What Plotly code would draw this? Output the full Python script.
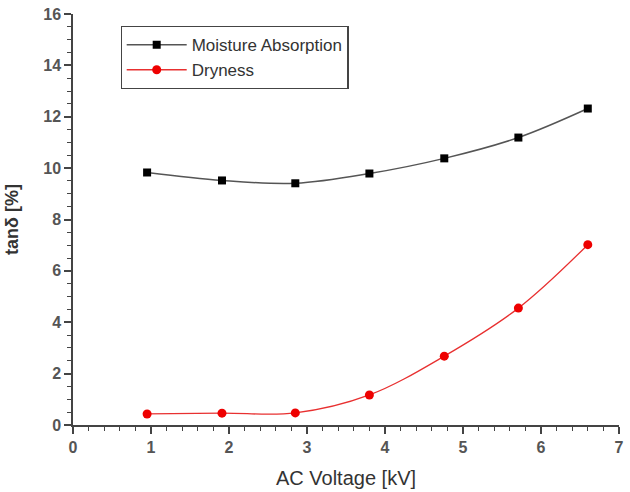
import plotly.graph_objects as go

voltage = [0.95, 1.91, 2.85, 3.80, 4.76, 5.71, 6.60]
moisture = [9.83, 9.52, 9.41, 9.79, 10.38, 11.19, 12.32]
dryness = [0.43, 0.46, 0.47, 1.17, 2.68, 4.55, 7.02]

fig = go.Figure()
fig.add_trace(go.Scatter(x=voltage, y=moisture, name="Moisture Absorption",
                         mode="lines+markers", line=dict(color="#555555", width=1.5, shape="spline"),
                         marker=dict(symbol="square", size=8, color="black")))
fig.add_trace(go.Scatter(x=voltage, y=dryness, name="Dryness",
                         mode="lines+markers", line=dict(color="#e83030", width=1.3, shape="spline"),
                         marker=dict(symbol="circle", size=9, color="#ee0000")))

axis_common = dict(showline=True, linecolor="#444444", linewidth=1.5, ticks="outside",
                   ticklen=7, tickwidth=1.5, tickcolor="#444444", showgrid=False, zeroline=False,
                   tickfont=dict(family="Liberation Sans", size=16, color="#555555", weight="bold"),
                   minor=dict(ticks="outside", ticklen=4, tickwidth=1.2, tickcolor="#444444"))

fig.update_xaxes(range=[0, 7], dtick=1, **axis_common,
                 title=dict(text="AC Voltage [kV]", font=dict(family="Liberation Sans", size=20, color="#333333"), standoff=16))
fig.update_yaxes(range=[0, 16], dtick=2, **axis_common,
                 title=dict(text="tanδ [%]", font=dict(family="Liberation Sans", size=18, color="#333333", weight="bold"), standoff=20))

fig.update_layout(width=630, height=492, margin=dict(l=73, r=6, t=13, b=67),
                  plot_bgcolor="white", paper_bgcolor="white",
                  legend=dict(x=0.087, y=0.971, xanchor="left", yanchor="top",
                              bordercolor="#444444", borderwidth=1.2, bgcolor="white",
                              font=dict(family="Liberation Sans", size=17, color="#333333"),
                              itemwidth=60, tracegroupgap=0))
fig.write_html("out.html")
